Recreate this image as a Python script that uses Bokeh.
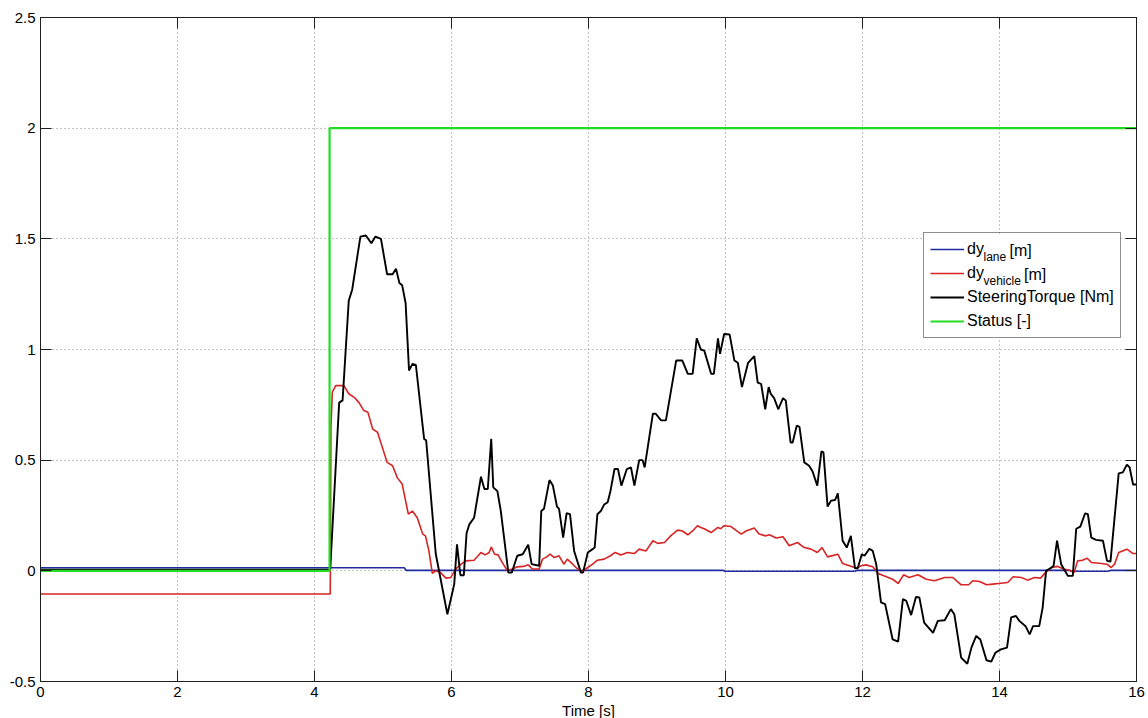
from bokeh.plotting import figure
from bokeh.models import (Range1d, FixedTicker, LinearAxis, Legend, LegendItem, Label,
                          BoxAnnotation)
from bokeh.embed import file_html
from bokeh.resources import INLINE

FONT = "Liberation Sans"

# ---------------- data ----------------
x_ticks = [0, 2, 4, 6, 8, 10, 12, 14, 16]
x_tick_labels = ["0", "2", "4", "6", "8", "10", "12", "14", "16"]
y_ticks = [-0.5, 0, 0.5, 1, 1.5, 2, 2.5]
y_tick_labels = ["-0.5", "0", "0.5", "1", "1.5", "2", "2.5"]

series_names = ["dy", "dy", "SteeringTorque [Nm]", "Status [-]"]
subscripts = ["lane", "vehicle"]

lane_t = [0, 5.31, 5.34, 9.97, 9.99, 11.88, 11.92, 15.03, 15.05, 15.58, 15.62, 16]
lane_v = [0.014, 0.014, 0.002, 0.002, -0.002, -0.002, 0.002, 0.002, -0.002, -0.002, 0.002, 0.002]

vehicle_t = [0, 4.22, 4.23, 4.24, 4.26, 4.31, 4.43, 4.50, 4.58, 4.65, 4.72, 4.78, 4.85, 4.92,
             4.99, 5.06, 5.14, 5.21, 5.28, 5.37, 5.43, 5.50, 5.58, 5.62, 5.67, 5.72, 5.77,
             5.84, 5.92, 5.99, 6.06, 6.14, 6.21, 6.33, 6.43, 6.49, 6.55, 6.58, 6.63, 6.68,
             6.74, 6.81, 6.89, 6.96, 7.05, 7.12, 7.18, 7.28, 7.33, 7.39, 7.44, 7.50, 7.57,
             7.64, 7.69, 7.77, 7.84, 7.91, 7.99, 8.06, 8.13, 8.23, 8.32, 8.39, 8.47, 8.57,
             8.67, 8.74, 8.84, 8.94, 9.01, 9.11, 9.20, 9.30, 9.37, 9.45, 9.52, 9.59, 9.64,
             9.69, 9.79, 9.89, 9.93, 9.98, 10.08, 10.15, 10.23, 10.30, 10.42, 10.49, 10.59,
             10.64, 10.74, 10.84, 10.93, 11.05, 11.15, 11.25, 11.34, 11.41, 11.49, 11.64,
             11.71, 11.81, 11.91, 11.98, 12.05, 12.15, 12.23, 12.32, 12.44, 12.52, 12.60,
             12.68, 12.81, 12.93, 13.05, 13.20, 13.32, 13.44, 13.55, 13.61, 13.71, 13.81,
             13.90, 14.02, 14.12, 14.20, 14.32, 14.41, 14.51, 14.60, 14.67, 14.76, 14.85,
             14.94, 15.02, 15.09, 15.14, 15.21, 15.28, 15.34, 15.49, 15.57, 15.63, 15.68,
             15.74, 15.86, 15.95, 16.0]
vehicle_v = [-0.105, -0.105, -0.105, 0.65, 0.807, 0.837, 0.837, 0.80, 0.784, 0.76, 0.724, 0.716,
             0.64, 0.626, 0.558, 0.49, 0.475, 0.42, 0.392, 0.256, 0.27, 0.24, 0.166, 0.158,
             0.09, -0.012, 0.0, -0.008, -0.033, -0.03, 0.008, 0.03, 0.045, 0.048, 0.083,
             0.072, 0.083, 0.108, 0.075, 0.072, 0.038, 0.003, 0.008, 0.018, 0.02, 0.027,
             0.008, 0.008, 0.053, 0.063, 0.075, 0.06, 0.068, 0.03, 0.053, 0.03, 0.008,
             -0.003, 0.015, 0.03, 0.048, 0.053, 0.068, 0.083, 0.072, 0.083, 0.078, 0.098,
             0.09, 0.136, 0.124, 0.128, 0.158, 0.184, 0.18, 0.163, 0.18, 0.204, 0.196, 0.19,
             0.173, 0.196, 0.19, 0.204, 0.2, 0.184, 0.166, 0.18, 0.193, 0.166, 0.158, 0.163,
             0.148, 0.154, 0.113, 0.128, 0.105, 0.098, 0.083, 0.105, 0.063, 0.075, 0.033,
             0.023, 0.012, 0.023, 0.027, 0.018, -0.012, -0.023, -0.038, -0.057, -0.018,
             -0.03, -0.018, -0.038, -0.045, -0.03, -0.03, -0.063, -0.063, -0.045, -0.048,
             -0.063, -0.06, -0.056, -0.053, -0.027, -0.03, -0.042, -0.03, -0.033, -0.008,
             0.015, 0.02, 0.008, 0.003, -0.008, 0.045, 0.048, 0.057, 0.038, 0.033, 0.03,
             0.015, 0.03, 0.083, 0.098, 0.078, 0.078]

torque_t = [0, 4.22, 4.23, 4.36, 4.41, 4.50, 4.55, 4.67, 4.75, 4.83, 4.89, 4.97, 5.06, 5.14,
            5.19, 5.24, 5.28, 5.33, 5.38, 5.43, 5.48, 5.60, 5.63, 5.77, 5.94, 6.04, 6.08,
            6.13, 6.18, 6.22, 6.26, 6.33, 6.43, 6.48, 6.53, 6.58, 6.61, 6.67, 6.72, 6.83,
            6.88, 6.96, 7.04, 7.12, 7.17, 7.28, 7.31, 7.35, 7.43, 7.48, 7.54, 7.57, 7.63,
            7.68, 7.73, 7.79, 7.89, 7.92, 7.99, 8.06, 8.09, 8.13, 8.18, 8.23, 8.28, 8.32,
            8.38, 8.43, 8.48, 8.56, 8.62, 8.67, 8.74, 8.79, 8.82, 8.94, 8.98, 9.06, 9.13,
            9.28, 9.37, 9.45, 9.52, 9.58, 9.64, 9.69, 9.79, 9.83, 9.89, 9.92, 9.98, 10.06,
            10.13, 10.18, 10.24, 10.33, 10.42, 10.47, 10.52, 10.58, 10.63, 10.66, 10.71,
            10.77, 10.84, 10.88, 10.95, 10.98, 11.04, 11.08, 11.15, 11.22, 11.27, 11.34,
            11.40, 11.43, 11.49, 11.54, 11.60, 11.64, 11.71, 11.77, 11.83, 11.89, 11.93,
            11.99, 12.03, 12.10, 12.15, 12.20, 12.27, 12.33, 12.44, 12.52, 12.59, 12.64,
            12.71, 12.78, 12.83, 12.90, 13.03, 13.10, 13.20, 13.29, 13.34, 13.44, 13.53,
            13.59, 13.66, 13.72, 13.81, 13.88, 13.94, 14.02, 14.11, 14.17, 14.24, 14.29,
            14.38, 14.44, 14.49, 14.58, 14.63, 14.68, 14.76, 14.79, 14.84, 14.90, 14.94,
            15.00, 15.07, 15.12, 15.18, 15.25, 15.29, 15.34, 15.41, 15.51, 15.57, 15.62,
            15.68, 15.74, 15.80, 15.86, 15.90, 15.95, 16.0]
torque_v = [0.005, 0.005, 0.01, 0.76, 0.77, 1.22, 1.27, 1.51, 1.515, 1.48, 1.51, 1.50, 1.34,
            1.34, 1.365, 1.30, 1.29, 1.21, 0.905, 0.935, 0.93, 0.596, 0.59, 0.077, -0.196,
            -0.06, 0.12, -0.02, -0.02, 0.17, 0.21, 0.24, 0.425, 0.37, 0.37, 0.596, 0.377,
            0.36, 0.27, -0.008, -0.008, 0.068, 0.075, 0.118, 0.03, 0.023, 0.27, 0.28, 0.41,
            0.385, 0.29, 0.28, 0.15, 0.26, 0.256, 0.09, -0.008, -0.008, 0.083, 0.098, 0.105,
            0.256, 0.27, 0.30, 0.31, 0.36, 0.46, 0.46, 0.385, 0.46, 0.467, 0.385, 0.50, 0.50,
            0.467, 0.71, 0.71, 0.68, 0.68, 0.95, 0.95, 0.89, 0.89, 1.05, 1.00, 0.995, 0.89,
            0.89, 1.05, 0.98, 1.07, 1.068, 0.95, 0.94, 0.83, 0.94, 0.97, 0.85, 0.845, 0.73,
            0.83, 0.80, 0.78, 0.73, 0.78, 0.77, 0.58, 0.58, 0.656, 0.65, 0.49, 0.475, 0.45,
            0.385, 0.54, 0.535, 0.29, 0.317, 0.32, 0.35, 0.136, 0.105, 0.158, 0.012, 0.012,
            0.075, 0.068, 0.10, 0.09, 0.03, -0.143, -0.15, -0.31, -0.32, -0.128, -0.136,
            -0.20, -0.118, -0.12, -0.234, -0.28, -0.226, -0.223, -0.173, -0.196, -0.392,
            -0.42, -0.347, -0.294, -0.31, -0.404, -0.41, -0.37, -0.355, -0.347, -0.21,
            -0.204, -0.226, -0.25, -0.287, -0.25, -0.25, -0.166, 0.0, 0.015, 0.023, 0.136,
            0.03, 0.008, -0.023, -0.023, 0.19, 0.20, 0.26, 0.256, 0.15, 0.14, 0.136, 0.045,
            0.042, 0.24, 0.44, 0.445, 0.48, 0.467, 0.39, 0.39]

status_t = [0, 4.22, 4.22, 16]
status_v = [0, 0, 2, 2]

# ---------------- figure ----------------
FRAME_W, FRAME_H = 1096, 664
X0, X1, Y0, Y1 = 0, 16, -0.5, 2.5
AX = "#1e1e1e"

p = figure(frame_width=FRAME_W, frame_height=FRAME_H,
           x_range=Range1d(X0, X1), y_range=Range1d(Y0, Y1),
           output_backend="svg", toolbar_location=None,
           min_border_left=40, min_border_right=12, min_border_top=17, min_border_bottom=0,
           background_fill_color="white", border_fill_color="white",
           outline_line_color=AX, outline_line_width=1)

p.xaxis.ticker = FixedTicker(ticks=x_ticks)
p.yaxis.ticker = FixedTicker(ticks=y_ticks)
p.xaxis.major_label_overrides = {t: l for t, l in zip(x_ticks, x_tick_labels)}
p.yaxis.major_label_overrides = {t: l for t, l in zip(y_ticks, y_tick_labels)}
p.xaxis.axis_label = "Time [s]"
p.xaxis.axis_label_text_font = FONT
p.xaxis.axis_label_text_font_style = "normal"
p.xaxis.axis_label_text_font_size = "15px"
p.xaxis.axis_label_text_color = "black"
p.xaxis.axis_label_standoff = 2

for ax in [p.xaxis[0], p.yaxis[0]]:
    ax.major_label_text_font = FONT
    ax.major_label_text_font_size = "15px"
    ax.major_label_text_color = "black"
    ax.major_tick_in = 11
    ax.major_tick_out = 0
    ax.minor_tick_in = 0
    ax.minor_tick_out = 0
    ax.axis_line_color = AX
    ax.major_tick_line_color = AX
p.xaxis.major_label_standoff = 5
p.yaxis.major_label_standoff = 5

for loc, ticks in (("right", y_ticks), ("above", x_ticks)):
    ax = LinearAxis(ticker=FixedTicker(ticks=ticks),
                    major_label_overrides={t: "" for t in ticks},
                    major_label_text_font_size="8px",
                    major_label_standoff=0, major_tick_in=11, major_tick_out=0,
                    minor_tick_in=0, minor_tick_out=0, axis_line_color=AX,
                    major_tick_line_color=AX)
    p.add_layout(ax, loc)

p.xgrid.ticker = FixedTicker(ticks=x_ticks)
p.ygrid.ticker = FixedTicker(ticks=y_ticks)
for g in (p.xgrid[0], p.ygrid[0]):
    g.grid_line_color = "#8a8a8a"
    g.grid_line_dash = "1 3"
    g.grid_line_width = 1

r_lane = p.line(lane_t, lane_v, line_color="#1f2a9e", line_width=1.6)
r_veh = p.line(vehicle_t, vehicle_v, line_color="#d82424", line_width=1.6)
r_tq = p.line(torque_t, torque_v, line_color="black", line_width=1.9)
r_st = p.line(status_t, status_v, line_color="#22dd22", line_width=2.2)


def px_to_x(px):
    return X0 + px / FRAME_W * (X1 - X0)


def px_to_y(px_from_bottom):
    return Y0 + px_from_bottom / FRAME_H * (Y1 - Y0)


# ---------------- legend ----------------
LEG_X, LEG_TOP, LEG_W = 883, 217, 197
PAD, ROW_H, SPACING, GLYPH_W, STANDOFF = 6, 20, 4, 34, 3
LEG_H = 2 * PAD + 4 * ROW_H + 3 * SPACING
LEG_BOTTOM = FRAME_H - LEG_TOP - LEG_H

# white backing behind the (transparent) legend so that the grid does not show through
p.add_layout(BoxAnnotation(left=px_to_x(LEG_X), right=px_to_x(LEG_X + LEG_W),
                           bottom=px_to_y(LEG_BOTTOM), top=px_to_y(LEG_BOTTOM + LEG_H),
                           fill_color="white", fill_alpha=1.0, line_alpha=0,
                           level="annotation", editable=False))

legend = Legend(items=[LegendItem(label=n, renderers=[r])
                       for n, r in zip(series_names, [r_lane, r_veh, r_tq, r_st])],
                location=(LEG_X, LEG_BOTTOM),
                label_text_font=FONT, label_text_font_size="16px",
                label_text_color="black", label_standoff=STANDOFF,
                label_height=ROW_H, glyph_height=ROW_H, glyph_width=GLYPH_W,
                spacing=SPACING, padding=PAD, margin=0,
                border_line_color=AX, border_line_width=1,
                background_fill_color="white", background_fill_alpha=0.0)
p.add_layout(legend)

text_x = LEG_X + PAD + GLYPH_W + STANDOFF
dy_w = 17
sub_w = [23, 37.5]
for i, sub in enumerate(subscripts):
    row_c = FRAME_H - LEG_TOP - PAD - ROW_H / 2 - i * (ROW_H + SPACING)
    p.add_layout(Label(x=px_to_x(text_x + dy_w), y=px_to_y(row_c - 6.5),
                       text=sub, text_font=FONT, text_font_size="12px", level="overlay",
                       text_baseline="middle", text_align="left", text_color="black"))
    p.add_layout(Label(x=px_to_x(text_x + dy_w + sub_w[i] + 3), y=px_to_y(row_c),
                       text="[m]", text_font=FONT, level="overlay",
                       text_font_size="16px", text_baseline="middle", text_align="left",
                       text_color="black"))

open("out.html", "w").write(file_html(p, INLINE))
